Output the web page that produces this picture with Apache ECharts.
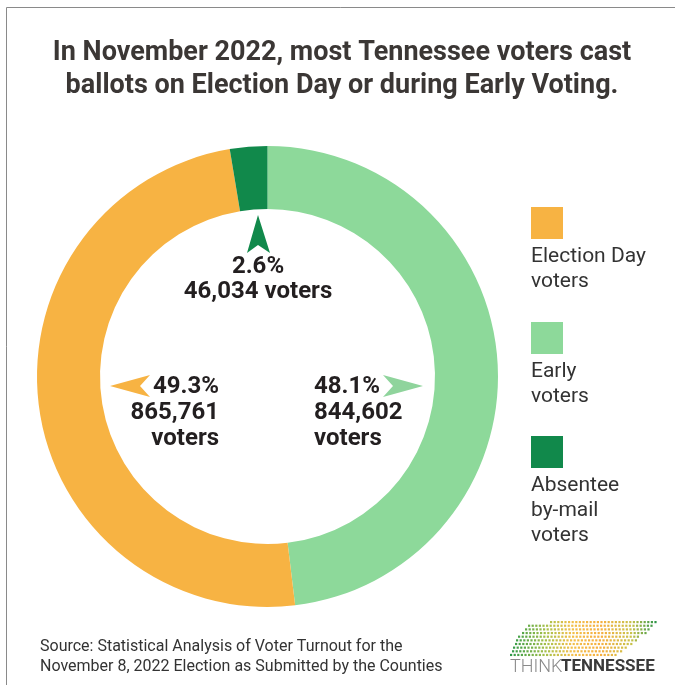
<!DOCTYPE html>
<html><head><meta charset="utf-8">
<script src="https://cdn.jsdelivr.net/npm/echarts@6/dist/echarts.min.js"></script>
<style>html,body{margin:0;padding:0;background:#fff}#c{width:675px;height:685px}</style>
</head><body><div id="c"></div>
<script>
// ---- data ----
const categories = ['Early voters', 'Election Day voters', 'Absentee by-mail voters'];
const voters = [844602, 865761, 46034];
const percentLabels = ['48.1%', '49.3%', '2.6%'];
const voterLabels = ['844,602', '865,761', '46,034'];
const legendOrder = [1, 0, 2];
const legendLines = [['Early', 'voters'], ['Election Day', 'voters'], ['Absentee', 'by-mail', 'voters']];
const colors = ['#8DD99A', '#F7B343', '#11894B'];
const titleLines = ['In November 2022, most Tennessee voters cast', 'ballots on Election Day or during Early Voting.'];
const sourceLines = ['Source: Statistical Analysis of Voter Turnout for the', 'November 8, 2022 Election as Submitted by the Counties'];

const chart = echarts.init(document.getElementById('c'), null, {renderer: 'canvas'});
const g = [];
const DARK = '#231f20';
const FF = 'Roboto, "Noto Sans", sans-serif';

// frame
g.push({type: 'line', shape: {x1: 6.5, y1: 7.5, x2: 675, y2: 7.5}, style: {stroke: '#8a8a8a', lineWidth: 1}, silent: true});
g.push({type: 'line', shape: {x1: 6.5, y1: 7.5, x2: 6.5, y2: 685}, style: {stroke: '#8a8a8a', lineWidth: 1}, silent: true});

// title
titleLines.forEach((t, i) => g.push({type: 'text', style: {text: t, x: 342, y: 53 + i * 33, textAlign: 'center', textVerticalAlign: 'middle', font: '700 27px ' + FF, fill: '#3b3735'}}));

// arrows
g.push({type: 'polygon', shape: {points: [[258, 215], [270, 253], [258, 245], [247, 253]]}, style: {fill: '#11894B'}});
g.push({type: 'polygon', shape: {points: [[110, 386], [150, 375], [140, 386], [150, 397]]}, style: {fill: '#F7B343'}});
g.push({type: 'polygon', shape: {points: [[423, 386], [383, 375], [393, 386], [383, 397]]}, style: {fill: '#8FD49C'}});

const bold = '700 24px ' + FF;
// absentee label
g.push({type: 'text', style: {text: percentLabels[2], x: 258, y: 267, textAlign: 'center', textVerticalAlign: 'middle', font: bold, fill: DARK}});
g.push({type: 'text', style: {text: voterLabels[2] + ' voters', x: 258, y: 292, textAlign: 'center', textVerticalAlign: 'middle', font: bold, fill: DARK}});
// election day label (right aligned)
[percentLabels[1], voterLabels[1], 'voters'].forEach((t, i) => g.push({type: 'text', style: {text: t, x: 219, y: 387 + i * 26, textAlign: 'right', textVerticalAlign: 'middle', font: bold, fill: DARK}}));
// early label (left aligned)
[percentLabels[0], voterLabels[0], 'voters'].forEach((t, i) => g.push({type: 'text', style: {text: t, x: 314, y: 387 + i * 26, textAlign: 'left', textVerticalAlign: 'middle', font: bold, fill: DARK}}));

// legend
const legendTop = [207, 322, 436];
legendOrder.forEach((idx, k) => {
  const y0 = legendTop[k];
  g.push({type: 'rect', shape: {x: 531, y: y0, width: 32, height: 32}, style: {fill: colors[idx]}});
  legendLines[idx].forEach((t, j) => g.push({type: 'text', style: {text: t, x: 531, y: y0 + 50 + j * 25, textAlign: 'left', textVerticalAlign: 'middle', font: '400 21px ' + FF, fill: '#333333'}}));
});

// source
sourceLines.forEach((t, i) => g.push({type: 'text', style: {text: t, x: 40, y: 647 + i * 20, textAlign: 'left', textVerticalAlign: 'middle', font: '400 16px ' + FF, fill: '#333333'}}));

// logo (decorative dots)
const rowsStart = [550, 528, 525, 522, 518, 516, 515, 513, 512, 510];
const rowsEnd = [655, 653, 651, 646, 640, 637, 633, 627, 622, 617];
function lerpColor(a, b, t) {
  const pa = [1, 3, 5].map(i => parseInt(a.substr(i, 2), 16));
  const pb = [1, 3, 5].map(i => parseInt(b.substr(i, 2), 16));
  return 'rgb(' + pa.map((v, i) => Math.round(v + (pb[i] - v) * t)).join(',') + ')';
}
const stops = [[510, '#2f9a4a'], [545, '#a7c04a'], [570, '#f2c04a'], [600, '#f6b040'], [630, '#c9c24a'], [655, '#2a9448']];
function dotColor(x) {
  for (let i = 0; i < stops.length - 1; i++) {
    if (x <= stops[i + 1][0]) return lerpColor(stops[i][1], stops[i + 1][1], (x - stops[i][0]) / (stops[i + 1][0] - stops[i][0]));
  }
  return stops[stops.length - 1][1];
}
const dots = [];
rowsStart.forEach((xs, r) => {
  for (let x = xs; x <= rowsEnd[r]; x += 3.6) {
    dots.push({type: 'rect', shape: {x: x, y: 621 + r * 3.65, width: 2.2, height: 2.2}, style: {fill: dotColor(x)}, silent: true});
  }
});
g.push({type: 'group', children: dots});
g.push({type: 'text', style: {text: 'THINK', x: 510, y: 667, textAlign: 'left', textVerticalAlign: 'middle', font: '300 18px ' + FF, fill: '#8a8a8a'}});
g.push({type: 'text', style: {text: 'TENNESSEE', x: 561, y: 667, textAlign: 'left', textVerticalAlign: 'middle', font: '700 17px ' + FF, fill: '#3a3a3a'}});

chart.setOption({
  animation: false,
  backgroundColor: '#ffffff',
  series: [{
    type: 'pie',
    center: [267.5, 376.5],
    radius: [167.5, 230.5],
    startAngle: 90,
    clockwise: true,
    silent: true,
    label: {show: false},
    labelLine: {show: false},
    itemStyle: {borderWidth: 0},
    data: categories.map((c, i) => ({name: c, value: voters[i], itemStyle: {color: colors[i]}}))
  }],
  graphic: g
});
</script>
</body></html>
